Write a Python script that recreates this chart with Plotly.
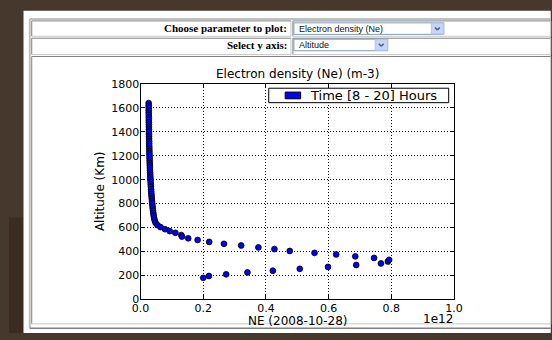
import plotly.graph_objects as go

W, H = 552, 340

# ---------------- data ----------------
# NE in units of 1e12 m-3, altitude in km
ne_dense = [0.0258, 0.0258, 0.0259, 0.0260, 0.0260, 0.0261, 0.0262, 0.0263, 0.0264, 0.0265,
            0.0266, 0.0267, 0.0268, 0.0270, 0.0271, 0.0272, 0.0274, 0.0275, 0.0277, 0.0279,
            0.0281, 0.0283, 0.0285, 0.0287, 0.0290, 0.0292, 0.0295, 0.0298, 0.0301, 0.0304,
            0.0308, 0.0312, 0.0316, 0.0320, 0.0325, 0.0330, 0.0335, 0.0340, 0.0346, 0.0352,
            0.0358, 0.0365, 0.0372, 0.0380, 0.0388, 0.0397, 0.0407, 0.0418, 0.0432, 0.0450,
            0.0478, 0.0540]
alt_dense = [1640, 1620, 1600, 1580, 1560, 1540, 1520, 1500, 1480, 1460,
             1440, 1420, 1400, 1380, 1360, 1340, 1320, 1300, 1280, 1260,
             1240, 1220, 1200, 1180, 1160, 1140, 1120, 1100, 1080, 1060,
             1040, 1020, 1000, 980, 960, 940, 920, 900, 880, 860,
             840, 820, 800, 780, 760, 740, 720, 700, 680, 660,
             640, 620]
ne_upper = [0.064, 0.078, 0.093, 0.111, 0.130, 0.132, 0.152, 0.182, 0.219, 0.266,
            0.321, 0.376, 0.427, 0.476, 0.555, 0.624, 0.685, 0.745]
alt_upper = [603, 586, 570, 556, 537, 524, 510, 496, 480, 464,
             450, 434, 420, 404, 388, 375, 359, 346]
ne_lower = [0.200, 0.218, 0.273, 0.341, 0.422, 0.508, 0.598, 0.688, 0.767, 0.789, 0.793]
alt_lower = [180, 195, 209, 225, 239, 255, 271, 287, 300, 316, 330]

x_ticks = [0.0, 0.2, 0.4, 0.6, 0.8, 1.0]
y_ticks = [0, 200, 400, 600, 800, 1000, 1200, 1400, 1600, 1800]

chart_title = "Electron density (Ne) (m-3)"
x_title = "NE (2008-10-28)"
x_offset_text = "1e12"
y_title = "Altitude (Km)"
legend_label = "Time [8 - 20] Hours"
param_label = "Choose parameter to plot:"
param_value = "Electron density (Ne)"
yaxis_label = "Select y axis:"
yaxis_value = "Altitude"

# ---------------- helpers (pixel -> paper) ----------------
def px(x):
    return x / W


def py(y):
    return 1 - y / H


shapes = []
annotations = []


def rect(x0, y0, x1, y1, fill=None, line=None, lw=1, layer="below"):
    shapes.append(dict(type="rect", xref="paper", yref="paper",
                       x0=px(x0), x1=px(x1), y0=py(y1), y1=py(y0),
                       fillcolor=fill if fill else "rgba(0,0,0,0)",
                       line=dict(color=line if line else "rgba(0,0,0,0)", width=lw if line else 0),
                       layer=layer))


def seg(x0, y0, x1, y1, color, lw=1, layer="below"):
    shapes.append(dict(type="line", xref="paper", yref="paper",
                       x0=px(x0), x1=px(x1), y0=py(y0), y1=py(y1),
                       line=dict(color=color, width=lw), layer=layer))


def text(x, y, s, size, family="DejaVu Sans", color="#000", xanchor="center",
         angle=0, bold=False):
    if bold:
        s = "<b>" + s + "</b>"
    annotations.append(dict(xref="paper", yref="paper", x=px(x), y=py(y), text=s,
                            showarrow=False, xanchor=xanchor, yanchor="middle",
                            textangle=angle,
                            font=dict(size=size, family=family, color=color)))


DARK = "#808080"
LIGHT = "#c8c8c8"


def inset(x0, y0, x1, y1):
    seg(x0, y0, x1, y0, DARK)
    seg(x0, y0, x0, y1, DARK)
    seg(x0, y1, x1, y1, LIGHT)
    seg(x1, y0, x1, y1, LIGHT)


# ---------------- page chrome ----------------
rect(0, 0, 15, 340, fill="#47382d")
rect(0, 220, 15, 340, fill="#3c2b20")
rect(15, 5, 560, 340, fill="#ffffff")
# outer table frame
seg(21.5, 13.5, 560, 13.5, "#c0c0c0", 2)
seg(21.5, 13.5, 21.5, 335, "#c0c0c0", 2)
seg(21.5, 335, 560, 335, DARK, 1.5)
# cells
inset(23.5, 15.5, 291.5, 31.5)
inset(293.5, 15.5, 560, 31.5)
inset(23.5, 33.5, 291.5, 50.5)
inset(293.5, 33.5, 560, 50.5)
inset(23.5, 52.5, 560, 330.5)

# select boxes
SEL = "#7f9db9"
BTN = "#c6d6fa"
rect(294.5, 17.5, 449.5, 29.5, fill="#ffffff", line=SEL)
rect(436.5, 18, 449, 29, fill=BTN, line="#b4c6ee")
rect(294.5, 34.5, 391.5, 46.5, fill="#ffffff", line=SEL)
rect(378.5, 35, 391, 46, fill=BTN, line="#b4c6ee")
for cx, cy in [(442.8, 23.5), (384.8, 40.5)]:
    seg(cx - 2.5, cy - 1.2, cx, cy + 1.3, "#4d6185", 1.6)
    seg(cx, cy + 1.3, cx + 2.5, cy - 1.2, "#4d6185", 1.6)

text(289, 23, param_label, 11, family="Liberation Serif", xanchor="right", bold=True)
text(289, 41, yaxis_label, 11, family="Liberation Serif", xanchor="right", bold=True)
text(298, 23.5, param_value, 9, family="Liberation Sans", xanchor="left", color="#111")
text(298, 40.5, yaxis_value, 9, family="Liberation Sans", xanchor="left", color="#111")

# ---------------- chart texts ----------------
text(298, 70.5, chart_title, 12)
text(298, 327.5, x_title, 12)
text(461, 325, x_offset_text, 12, xanchor="right")
text(93.5, 192, y_title, 12, angle=-90)

# legend (matplotlib-style box with a patch)
rect(268.5, 85.5, 454.5, 100.5, fill="#ffffff", line="#000000", lw=1, layer="above")
rect(285.5, 89.5, 301.5, 96.5, fill="#0000ff", line="#000000", lw=1, layer="above")
text(309, 93, legend_label, 13, xanchor="left")

# ---------------- figure ----------------
ne_all = ne_dense + ne_upper + ne_lower
alt_all = alt_dense + alt_upper + alt_lower

fig = go.Figure()
fig.add_trace(go.Scatter(
    x=ne_all, y=alt_all, mode="markers",
    marker=dict(size=5.8, color="#0000ff", line=dict(color="#000000", width=0.8)),
    showlegend=False, hoverinfo="skip"))

axis_common = dict(
    showline=True, linecolor="#000000", linewidth=1, mirror="ticks",
    ticks="inside", ticklen=4, tickwidth=1, tickcolor="#000000",
    showgrid=True, gridcolor="#000000", gridwidth=1, griddash="1px,2px",
    zeroline=False, tickfont=dict(family="DejaVu Sans", size=11, color="#000000"),
)

fig.update_layout(
    width=W, height=H, autosize=False,
    margin=dict(l=0, r=0, t=0, b=0),
    paper_bgcolor="#47382d", plot_bgcolor="#ffffff",
    showlegend=False,
    xaxis=dict(domain=[px(136), px(460)], range=[0, 1], tickvals=x_ticks,
               tickformat=".1f", ticklabelstandoff=-2, **axis_common),
    yaxis=dict(domain=[py(305), py(81)], range=[0, 1800], tickvals=y_ticks,
               ticklabelstandoff=-2, **axis_common),
    shapes=shapes, annotations=annotations,
)

page_fix = (
    "var st=document.createElement('style');"
    "st.textContent='html,body{margin:0!important;padding:0!important;overflow:hidden;background:#47382d;}';"
    "document.head.appendChild(st);"
    "var gd=document.getElementById('{plot_id}');"
    "gd.style.position='fixed';gd.style.left='0px';gd.style.top='0px';"
)

fig.write_html("out.html", config={"displayModeBar": False}, post_script=page_fix)
